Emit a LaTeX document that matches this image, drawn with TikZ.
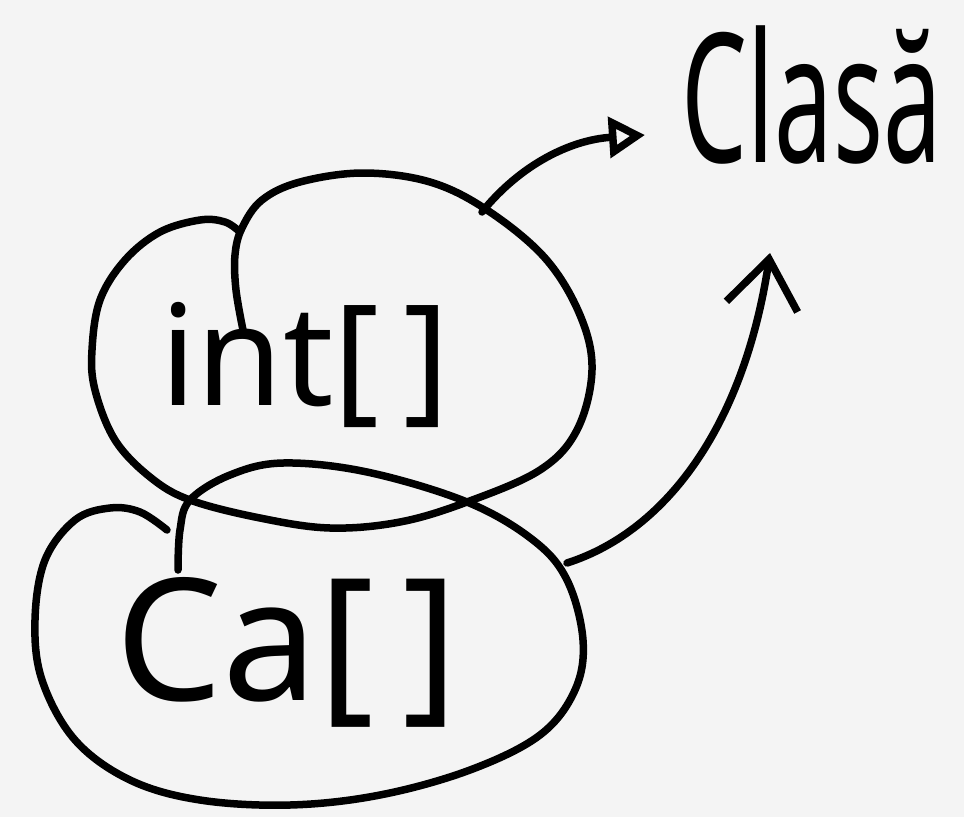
\documentclass[tikz,border=0pt]{standalone}
\usepackage{fontspec}
\setmainfont{Noto Sans}
\usetikzlibrary{arrows.meta}
\definecolor{bg}{HTML}{F4F4F4}
\begin{document}
\begin{tikzpicture}[x=1pt,y=-1pt,
  stroke/.style={line width=7.5pt, line cap=round, line join=round},
  handtext/.style={inner sep=0pt, anchor=base},
  head1/.style={-{Triangle[open,length=36pt,width=40pt,line width=7.5pt]}},
  head2/.style={-{Straight Barb[length=48pt,width=72pt,line width=7.5pt]}}
]
\fill[bg] (0,0) rectangle (964,817);
\useasboundingbox (0,0) rectangle (964,817);

% texts
\node[handtext] (clasa) at (812,162) {\scalebox{0.58}[1]{\fontsize{180}{180}\selectfont Clasă}};
\node[handtext] (intarr) at (305,405) {\fontsize{140}{140}\selectfont int[\,]};
\node[handtext] (caarr) at (287,700) {\fontsize{170}{170}\selectfont Ca[\,]};

% top loop (with tail)
\draw[stroke] plot[smooth, tension=0.6] coordinates {
  (243,330) (236,290) (235,255) (242,228) (262,200) (300,182) (363,173)
  (430,182) (487,210) (545,258) (580,315) (592,370) (577,430) (540,470)
  (467,502) (400,522) (330,528) (260,518) (190,500) (150,477) (115,440)
  (95,390) (92,350) (100,300) (125,260) (160,232) (200,220) (225,222) (240,232)};

% bottom loop (with tail)
\draw[stroke] plot[smooth, tension=0.6] coordinates {
  (178,570) (180,530) (190,500) (230,475) (283,463) (367,472) (467,502)
  (533,540) (567,580) (583,640) (575,690) (540,735) (470,770) (380,795)
  (290,805) (200,800) (130,780) (75,740) (42,680) (35,620) (45,560)
  (75,520) (110,508) (140,512) (167,530)};

% connectors
\coordinate (s1) at (482,212);
\coordinate (s2) at (567,563);
\coordinate (t1) at (645,135);
\coordinate (t2) at (770,253);
\draw[stroke, head1] (s1) .. controls (520,165) and (570,140) .. (t1);
\draw[stroke, head2] (s2) .. controls (670,530) and (745,420) .. (t2);
\end{tikzpicture}
\end{document}
